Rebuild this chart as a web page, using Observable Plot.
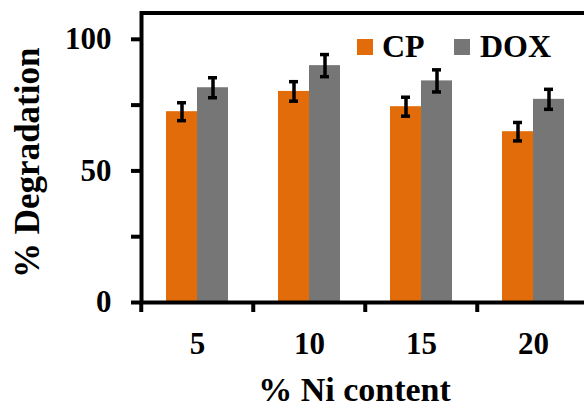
<!DOCTYPE html>
<html>
<head>
<meta charset="utf-8">
<script src="https://cdn.jsdelivr.net/npm/d3@7"></script>
<script src="https://cdn.jsdelivr.net/npm/@observablehq/plot@0.6"></script>
<style>
  html, body { margin: 0; padding: 0; background: #fff; }
  #wrap { position: relative; width: 584px; height: 408px; overflow: hidden; }
  #wrap svg { position: absolute; left: 0; top: 0; max-width: none !important; width: 590px !important; height: 408px !important; }
  .lg { position: absolute; font-family: "Liberation Serif", "Times New Roman", serif; font-weight: bold; font-size: 32px; line-height: 32px; color: #000; }
  .sw { position: absolute; width: 16px; height: 16px; }
</style>
</head>
<body>
<div id="wrap"></div>
<script>
const categories = ["5", "10", "15", "20"];
const seriesNames = ["CP", "DOX"];
const cpValues = [72.5, 80.2, 74.4, 64.9];
const doxValues = [81.6, 90.0, 84.2, 77.2];
const cpErrors = [3.4, 3.7, 3.6, 3.5];
const doxErrors = [3.8, 4.2, 4.2, 3.8];
const yTicks = [0, 50, 100];
const yMinorTicks = [25, 75];
const colors = ["#E36C0A", "#767676"];

const data = [];
categories.forEach((c, i) => {
  data.push({ni: c, series: "CP", value: cpValues[i], err: cpErrors[i]});
  data.push({ni: c, series: "DOX", value: doxValues[i], err: doxErrors[i]});
});
data.forEach(d => { d.lo = d.value - d.err; d.hi = d.value + d.err; });

const font = "'Liberation Serif', 'Times New Roman', serif";
const bandHalf = (590 - 140) / categories.length / 2;

const chart = Plot.plot({
  width: 590,
  height: 408,
  marginLeft: 140,
  marginRight: 0,
  marginTop: 12.5,
  marginBottom: 106,
  style: {fontFamily: font, fontWeight: "bold", background: "transparent", overflow: "visible"},
  fx: {domain: categories, padding: 0},
  x: {domain: seriesNames, paddingInner: 0, paddingOuter: 0.786, axis: null},
  y: {domain: [0, 110]},
  color: {domain: seriesNames, range: colors},
  marks: [
    Plot.barY(data, {fx: "ni", x: "series", y: "value", fill: "series", inset: 0}),
    Plot.ruleX(data, {fx: "ni", x: "series", y1: "lo", y2: "hi", stroke: "#000", strokeWidth: 3.5}),
    Plot.tickY(data, {fx: "ni", x: "series", y: "lo", stroke: "#000", strokeWidth: 3.5, insetLeft: 11, insetRight: 11}),
    Plot.tickY(data, {fx: "ni", x: "series", y: "hi", stroke: "#000", strokeWidth: 3.5, insetLeft: 11, insetRight: 11}),
    Plot.frame({facet: "super", stroke: "#000", strokeWidth: 4}),
    Plot.axisY({ticks: yTicks, tickSize: 10, tickPadding: 20, strokeWidth: 4, fontSize: 31, label: null}),
    Plot.axisY({ticks: yMinorTicks, tickSize: 10, strokeWidth: 4, text: null, label: null}),
    Plot.axisFx({anchor: "bottom", tickSize: 0, tickPadding: 29, fontSize: 31, label: null}),
    Plot.axisFx({anchor: "bottom", tickSize: 10, text: null, label: null, strokeWidth: 4, dx: -bandHalf}),
    Plot.text(["% Degradation"], {facet: "super", frameAnchor: "left", rotate: -90, textAnchor: "middle", lineAnchor: "middle", dx: -114, dy: 5, fontSize: 35, fontWeight: "bold", fill: "#000"}),
    Plot.text(["% Ni content"], {facet: "super", frameAnchor: "bottom", textAnchor: "middle", lineAnchor: "middle", dx: -11, dy: 88, fontSize: 34, fontWeight: "bold", fill: "#000"})
  ]
});

const wrap = document.getElementById("wrap");
wrap.appendChild(chart);

// legend
const legendItems = [
  {name: seriesNames[0], color: colors[0], sx: 357, tx: 382},
  {name: seriesNames[1], color: colors[1], sx: 454, tx: 480}
];
legendItems.forEach(it => {
  const sw = document.createElement("div");
  sw.className = "sw";
  sw.style.left = it.sx + "px";
  sw.style.top = "39px";
  sw.style.background = it.color;
  wrap.appendChild(sw);
  const t = document.createElement("div");
  t.className = "lg";
  t.style.left = it.tx + "px";
  t.style.top = "30px";
  t.textContent = it.name;
  wrap.appendChild(t);
});
</script>
</body>
</html>
